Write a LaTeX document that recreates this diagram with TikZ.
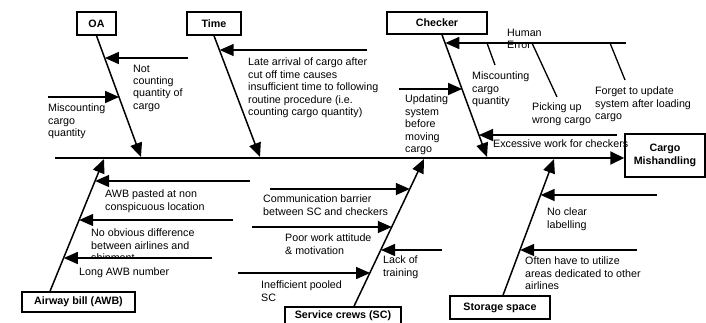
\documentclass[tikz,border=0pt]{standalone}
\usepackage{fontspec}
\setmainfont{Liberation Sans}
\usetikzlibrary{arrows.meta,calc}
\begin{document}
\begin{tikzpicture}[x=1pt,y=-1pt,
  box/.style={draw,line width=1.5pt,inner sep=0pt,align=center,font=\bfseries\fontsize{10.7}{12.4}\selectfont},
  lbl/.style={anchor=north west,inner sep=0pt,align=left,font=\fontsize{10.7}{12.4}\selectfont},
  bone/.style={line width=1.5pt,-{Triangle[length=14pt,width=12pt]}},
  sub/.style={line width=1.5pt,-{Triangle[length=14pt,width=12pt]}},
  twig/.style={line width=1.3pt},
  spine/.style={line width=2pt,-{Triangle[length=14pt,width=13pt]}}]
\useasboundingbox (0,0) rectangle (706,322);

% boxes
\node[box,minimum width=39pt,minimum height=23pt] (OA) at (96.5,23.5) {OA};
\node[box,minimum width=54pt,minimum height=23pt] (Time) at (214,23.5) {Time};
\node[box,minimum width=100pt,minimum height=22pt] (Checker) at (437,23) {Checker};
\node[box,minimum width=80pt,minimum height=43pt] (Cargo) at (665,155.5) {Cargo\\Mishandling};
\node[box,minimum width=113pt,minimum height=20pt] (AWB) at (78.5,302) {Airway bill (AWB)};
\node[box,minimum width=116pt,minimum height=18pt] (SC) at (343,316) {Service crews (SC)};
\node[box,minimum width=100pt,minimum height=23pt] (Storage) at (500,307.5) {Storage space};

% texts
\node[lbl] (tNotCount) at (133,64.5) {Not\\counting\\quantity of\\cargo};
\node[lbl] (tMisOA) at (48,104) {Miscounting\\cargo\\quantity};
\node[lbl] (tLate) at (248,58) {Late arrival of cargo after\\cut off time causes\\insufficient time to following\\routine procedure (i.e.\\counting cargo quantity)};
\node[lbl] (tHuman) at (507,29) {Human\\Error};
\node[lbl] (tMisChk) at (472,72) {Miscounting\\cargo\\quantity};
\node[lbl] (tPick) at (532,103) {Picking up\\wrong cargo};
\node[lbl] (tForget) at (595,87) {Forget to update\\system after loading\\cargo};
\node[lbl] (tUpd) at (405,95) {Updating\\system\\before\\moving\\cargo};
\node[lbl] (tExc) at (493,140) {Excessive work for checkers};
\node[lbl] (tPasted) at (105,190) {AWB pasted at non\\conspicuous location};
\begin{scope}
  \clip (80,200) rectangle (250,258.3);
  \node[lbl] (tNoObv) at (91,229) {No obvious difference\\between airlines and\\shipment};
\end{scope}
\node[lbl] (tLong) at (79,268) {Long AWB number};
\node[lbl] (tComm) at (263,195) {Communication barrier\\between SC and checkers};
\node[lbl] (tPoor) at (285,234) {Poor work attitude\\\& motivation};
\node[lbl] (tLack) at (383,256) {Lack of\\training};
\node[lbl] (tIneff) at (261,281) {Inefficient pooled\\SC};
\node[lbl] (tNoClear) at (547,208) {No clear\\labelling};
\node[lbl] (tOften) at (525,257) {Often have to utilize\\areas dedicated to other\\airlines};

% spine
\coordinate (tail) at (55,158);
\draw[spine] (tail) -- (Cargo.west |- tail);

% main bones
\coordinate (OAtip) at (141,157);
\coordinate (Timetip) at (260,157);
\coordinate (Chktip) at (487,157);
\coordinate (AWBtip) at (104,159);
\coordinate (SCtip) at (424,159);
\coordinate (Sttip) at (554,159);
\draw[bone] (OA.south) -- (OAtip);
\draw[bone] (Time.south) -- (Timetip);
\draw[bone] ($(Checker.south)+(5,0)$) -- (Chktip);
\draw[bone] ($(AWB.north)+(-28.5,0)$) -- (AWBtip);
\draw[bone] ($(SC.north)+(11,0)$) -- (SCtip);
\draw[bone] ($(Storage.north)+(3,0)$) -- (Sttip);

% OA causes
\coordinate (nc0) at (188,58);   \coordinate (nc1) at (104.9,58);
\coordinate (mo0) at (48,97);    \coordinate (mo1) at (119.1,97);
\draw[sub] (nc0) -- (nc1);
\draw[sub] (mo0) -- (mo1);

% Time cause
\coordinate (la0) at (367,50);   \coordinate (la1) at (219.7,50);
\draw[sub] (la0) -- (la1);

% Checker causes
\coordinate (he0) at (626,43);   \coordinate (he1) at (445.3,43);
\coordinate (up0) at (399,89);   \coordinate (up1) at (462.1,89);
\coordinate (ex0) at (617,135);  \coordinate (ex1) at (479,135);
\draw[sub] (he0) -- (he1);
\draw[sub] (up0) -- (up1);
\draw[sub] (ex0) -- (ex1);
\coordinate (tw1a) at (487,43); \coordinate (tw1b) at (495,65);
\coordinate (tw2a) at (532,43); \coordinate (tw2b) at (557,97);
\coordinate (tw3a) at (610,43); \coordinate (tw3b) at (625,80);
\draw[twig] (tw1a) -- (tw1b);
\draw[twig] (tw2a) -- (tw2b);
\draw[twig] (tw3a) -- (tw3b);

% AWB causes
\coordinate (aw10) at (250,181); \coordinate (aw11) at (95.1,181);
\coordinate (aw20) at (233,220); \coordinate (aw21) at (79.2,220);
\coordinate (aw30) at (212,258); \coordinate (aw31) at (63.8,258);
\draw[sub] (aw10) -- (aw11);
\draw[sub] (aw20) -- (aw21);
\draw[sub] (aw30) -- (aw31);

% SC causes
\coordinate (sc10) at (270,189); \coordinate (sc11) at (409.8,189);
\coordinate (sc20) at (252,227); \coordinate (sc21) at (391.8,227);
\coordinate (sc30) at (442,250); \coordinate (sc31) at (381,250);
\coordinate (sc40) at (238,273); \coordinate (sc41) at (370.1,273);
\draw[sub] (sc10) -- (sc11);
\draw[sub] (sc20) -- (sc21);
\draw[sub] (sc30) -- (sc31);
\draw[sub] (sc40) -- (sc41);

% Storage causes
\coordinate (st10) at (657,195); \coordinate (st11) at (540.6,195);
\coordinate (st20) at (637,250); \coordinate (st21) at (520.1,250);
\draw[sub] (st10) -- (st11);
\draw[sub] (st20) -- (st21);
\end{tikzpicture}
\end{document}
